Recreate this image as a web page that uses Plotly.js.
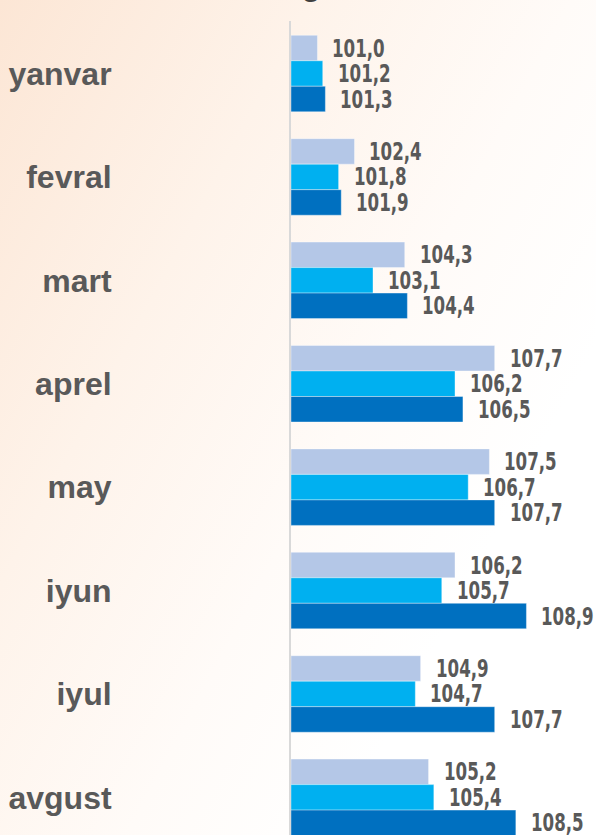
<!DOCTYPE html>
<html>
<head>
<meta charset="utf-8">
<script src="https://cdn.plot.ly/plotly-3.0.1.min.js"></script>
<style>
  html, body { margin: 0; padding: 0; }
  body {
    width: 596px; height: 835px; overflow: hidden;
    background: linear-gradient(118deg, #FCE6D5 0%, #FEF3EA 30%, #FFFBF8 55%, #FFFFFF 75%);
  }
  #chart { width: 596px; height: 835px; }
</style>
</head>
<body>
<div id="chart"></div>
<script>
const months = ["yanvar", "fevral", "mart", "aprel", "may", "iyun", "iyul", "avgust"];
const seriesA = [101.0, 102.4, 104.3, 107.7, 107.5, 106.2, 104.9, 105.2];
const seriesB = [101.2, 101.8, 103.1, 106.2, 106.7, 105.7, 104.7, 105.4];
const seriesC = [101.3, 101.9, 104.4, 106.5, 107.7, 108.9, 107.7, 108.5];
const seriesNames = ["A", "B", "C"];
const colors = ["#B4C7E7", "#00B0F0", "#0070C0"];
const titleFragment = "g";

const allSeries = [seriesA, seriesB, seriesC];
const traces = allSeries.map((vals, i) => ({
  type: "bar",
  orientation: "h",
  name: seriesNames[i],
  y: months,
  x: vals.map(v => +(v - 100).toFixed(2)),
  base: 100,
  marker: { color: colors[i], line: { color: "rgba(255,255,255,0.5)", width: 0.75 } },
  hoverinfo: "skip"
}));

const SQUEEZE = 0.74;
const shifts = [25.5, 0, -25.5];
const fmt = v => v.toFixed(1).replace(".", ",");
const annotations = [];
allSeries.forEach((vals, i) => {
  vals.forEach((v, j) => {
    annotations.push({
      x: v, y: months[j], xref: "x", yref: "y",
      text: fmt(v), showarrow: false,
      xanchor: "left", yanchor: "middle", align: "left",
      xshift: 13, yshift: shifts[i],
      font: { family: "DejaVu Sans Condensed", size: 25, color: "#595959", weight: 700 }
    });
  });
});
const nValueLabels = annotations.length;
annotations.push({
  x: (311 - 291) / 305, xref: "paper", y: 1, yref: "paper",
  text: titleFragment, showarrow: false,
  xanchor: "center", yanchor: "bottom", yshift: 17,
  font: { family: "Liberation Sans", size: 30, color: "#404040", weight: 700 }
});

const layout = {
  width: 596, height: 835,
  margin: { l: 291, r: 0, t: 21, b: 0 },
  paper_bgcolor: "rgba(0,0,0,0)",
  plot_bgcolor: "rgba(0,0,0,0)",
  showlegend: false,
  barmode: "group",
  bargap: 0.26,
  bargroupgap: 0,
  xaxis: {
    range: [100, 111.53],
    showgrid: false, zeroline: false, showline: false,
    showticklabels: false, ticks: ""
  },
  yaxis: {
    type: "category",
    range: [7.364, -0.508],
    showgrid: false, zeroline: false,
    showline: true, linecolor: "#D9D9D9", linewidth: 2,
    ticks: "",
    ticklabelstandoff: 171,
    tickfont: { family: "Liberation Sans", size: 32, color: "#595959", weight: 700 }
  },
  annotations: annotations
};

function valueTexts(gd) {
  const out = [];
  gd.querySelectorAll("g.annotation").forEach(g => {
    const idx = +g.getAttribute("data-index");
    const t = g.querySelector("text.annotation-text");
    if (t && idx < nValueLabels) out.push([idx, t]);
  });
  return out;
}
function squeeze(gd) {
  valueTexts(gd).forEach(([idx, el]) => {
    const w = el.getComputedTextLength();
    el.setAttribute("textLength", (w * SQUEEZE).toFixed(1));
    el.setAttribute("lengthAdjust", "spacingAndGlyphs");
  });
}

Plotly.newPlot("chart", traces, layout, { displayModeBar: false, staticPlot: true }).then(gd => {
  // narrow display face: size each label box to its condensed width
  const upd = {};
  valueTexts(gd).forEach(([idx, el]) => {
    upd["annotations[" + idx + "].width"] = Math.ceil(el.getComputedTextLength() * SQUEEZE) + 2;
    upd["annotations[" + idx + "].height"] = 25;
  });
  return Plotly.relayout(gd, upd);
}).then(gd => squeeze(gd));
</script>
</body>
</html>
